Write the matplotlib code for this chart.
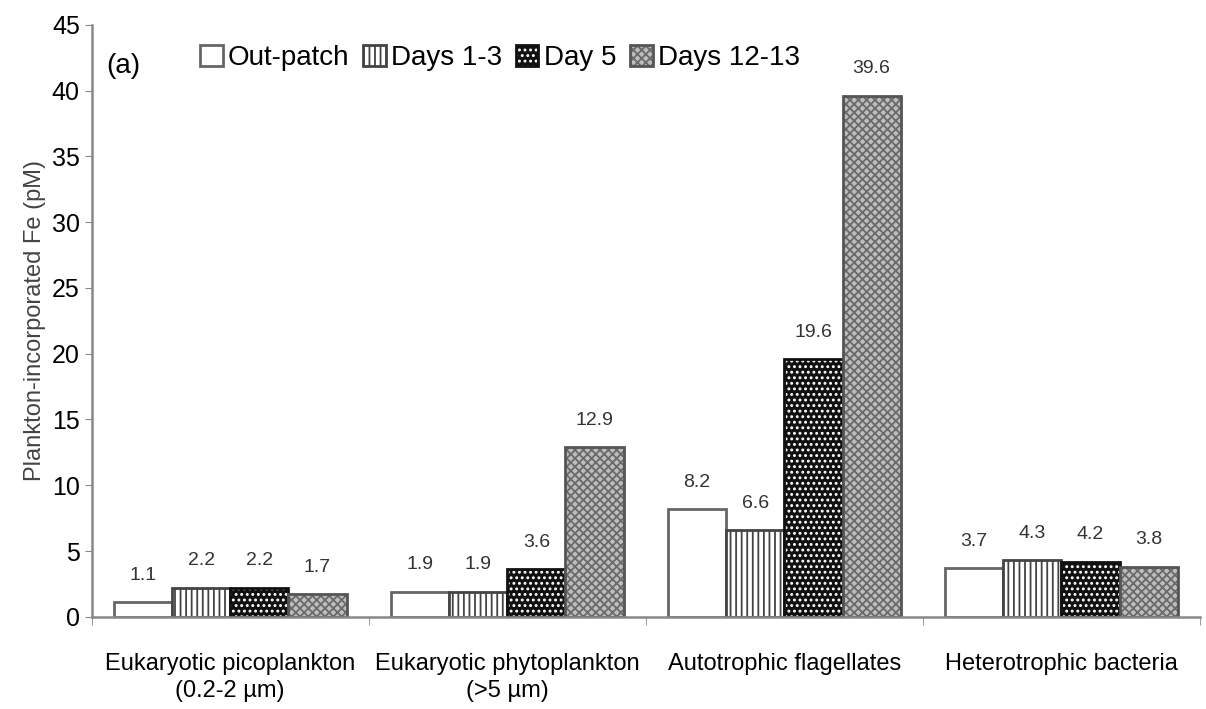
import matplotlib
matplotlib.use("Agg")
import matplotlib.pyplot as plt
import numpy as np
from matplotlib import font_manager

names = {f.name for f in font_manager.fontManager.ttflist}
fam = ["Liberation Sans Narrow", "Liberation Sans", "DejaVu Sans"]
fam = [f for f in fam if f in names] or ["DejaVu Sans"]
plt.rcParams['font.family'] = fam
plt.rcParams['hatch.linewidth'] = 1.3

categories = ["Eukaryotic picoplankton\n(0.2-2 \u00b5m)", "Eukaryotic phytoplankton\n(>5 \u00b5m)",
              "Autotrophic flagellates", "Heterotrophic bacteria"]
series = ["Out-patch", "Days 1-3", "Day 5", "Days 12-13"]
out_patch = [1.1, 1.9, 8.2, 3.7]
days_1_3 = [2.2, 1.9, 6.6, 4.3]
day_5 = [2.2, 3.6, 19.6, 4.2]
days_12_13 = [1.7, 12.9, 39.6, 3.8]
values = [out_patch, days_1_3, day_5, days_12_13]
yticks = [0, 5, 10, 15, 20, 25, 30, 35, 40, 45]

styles = [
    dict(facecolor="white", hcolor="#666666", hatch=None, edge="#666666"),
    dict(facecolor="white", hcolor="#444444", hatch="|||", edge="#444444"),
    dict(facecolor="#111111", hcolor="white", hatch="...", edge="#111111"),
    dict(facecolor="#bdbdbd", hcolor="#6a6a6a", hatch="xxxx", edge="#555555"),
]

fig = plt.figure(figsize=(12.06, 7.09), dpi=100)
ax = fig.add_axes([0.076, 0.13, 0.919, 0.835])

x = np.arange(len(categories))
w = 0.21
handles = []
for i, (vals, st) in enumerate(zip(values, styles)):
    pos = x + (i - 1.5) * w
    bars = ax.bar(pos, vals, width=w, facecolor=st["facecolor"], edgecolor=st["hcolor"],
                  hatch=st["hatch"], linewidth=0)
    outl = ax.bar(pos, vals, width=w, facecolor="none", edgecolor=st["edge"], linewidth=2)
    handles.append((bars, outl))
    for b, v in zip(bars, vals):
        ax.text(b.get_x() + b.get_width() / 2, v + 1.4, f"{v:.1f}", ha="center", va="bottom",
                fontsize=14, color="#333333")

ax.set_xlim(-0.5, 3.5)
ax.set_ylim(0, 45)
ax.set_yticks(yticks)
ax.set_yticklabels([str(t) for t in yticks], fontsize=18)
ax.set_xticks(x)
ax.set_xticklabels(categories, fontsize=17, linespacing=1.3)
ax.set_xticks([-0.5, 0.5, 1.5, 2.5, 3.5], minor=True)
ax.tick_params(axis="x", which="major", length=0, pad=26)
ax.tick_params(axis="x", which="minor", length=6, color="#888888")
ax.tick_params(axis="y", length=5, color="#888888")
for s in ["top", "right"]:
    ax.spines[s].set_visible(False)
for s in ["left", "bottom"]:
    ax.spines[s].set_color("#888888")
    ax.spines[s].set_linewidth(1.8)
ax.set_ylabel("Plankton-incorporated Fe (pM)", fontsize=17, color="#444444")

ax.text(0.013, 0.93, "(a)", transform=ax.transAxes, fontsize=20, va="center")
ax.legend(handles=handles, labels=series, loc="upper left", bbox_to_anchor=(0.088, 0.985),
          ncol=4, frameon=False, fontsize=20, handlelength=0.8, handleheight=0.8,
          handletextpad=0.2, columnspacing=0.5, borderaxespad=0)

fig.savefig("out.png", dpi=100)
